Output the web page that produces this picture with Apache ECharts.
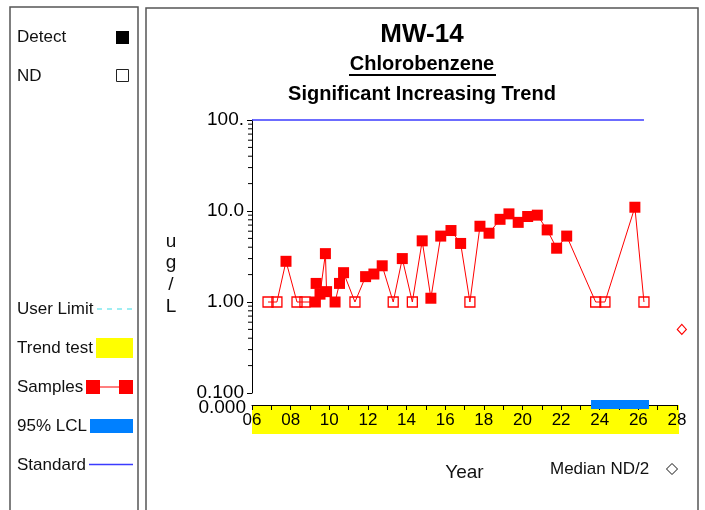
<!DOCTYPE html>
<html>
<head>
<meta charset="utf-8">
<script src="https://cdn.jsdelivr.net/npm/echarts@6/dist/echarts.min.js"></script>
<style>
html, body { margin: 0; padding: 0; background: #fff; }
#chart { width: 705px; height: 510px; }
</style>
</head>
<body>
<div id="chart"></div>
<script>
var FONT = '"Liberation Sans", Arial, sans-serif';

// detected samples (year, ug/L)
var detectDates = [2007.76, 2009.28, 2009.32, 2009.52, 2009.80, 2009.86, 2010.30, 2010.53, 2010.74,
    2011.88, 2012.31, 2012.74, 2013.78, 2014.81, 2015.26, 2015.77, 2016.30, 2016.80, 2017.80,
    2018.27, 2018.84, 2019.30, 2019.78, 2020.27, 2020.77, 2021.28, 2021.77, 2022.29, 2025.82];
var detectValues = [2.8, 1.0, 1.6, 1.22, 3.4, 1.3, 1.0, 1.6, 2.1,
    1.9, 2.03, 2.5, 3.0, 4.7, 1.1, 5.3, 6.1, 4.4, 6.8,
    5.7, 8.1, 9.3, 7.5, 8.7, 9.0, 6.2, 3.9, 5.3, 11.0];

// non-detects, plotted at reporting limit
var ndDates = [2006.83, 2007.29, 2008.33, 2008.74, 2011.33, 2013.31, 2014.30, 2017.28, 2023.79, 2024.27, 2026.29];
var ndValues = [1, 1, 1, 1, 1, 1, 1, 1, 1, 1, 1];

var standardValue = 100;
var standardRange = [2006, 2026.29];
var lclRange = [2023.55, 2026.55];
var trendRange = [2006, 2028];
var medianNdHalf = [2028.25, 0.5];

var yTickLabels = ['0.100', '1.00', '10.0', '100.'];
var yMinorMults = [2, 3, 4, 5, 6, 7, 8, 9];
var yDecades = [0.1, 1, 10];

var detectData = detectDates.map(function (d, i) { return [d, detectValues[i]]; });
var ndData = ndDates.map(function (d, i) { return [d, ndValues[i]]; });
var allData = detectData.concat(ndData).sort(function (a, b) { return a[0] - b[0]; });

var minorTickData = [];
yDecades.forEach(function (dec) {
    yMinorMults.forEach(function (m) { minorTickData.push([trendRange[0], +(dec * m).toPrecision(3)]); });
});

var myChart = echarts.init(document.getElementById('chart'));

var option = {
    animation: false,
    backgroundColor: '#fff',
    textStyle: { fontFamily: FONT },
    title: [
        { text: 'MW-14', left: 422, top: 22, textAlign: 'center', padding: 0,
          textStyle: { fontSize: 26, fontWeight: 'bold', color: '#000', lineHeight: 26, fontFamily: FONT } },
        { text: 'Chlorobenzene', left: 422, top: 54, textAlign: 'center', padding: 0,
          textStyle: { fontSize: 20, fontWeight: 'bold', color: '#000', lineHeight: 20, fontFamily: FONT } },
        { text: 'Significant Increasing Trend', left: 422, top: 84, textAlign: 'center', padding: 0,
          textStyle: { fontSize: 20, fontWeight: 'bold', color: '#000', lineHeight: 20, fontFamily: FONT } }
    ],
    grid: { left: 252, right: 28, top: 120, bottom: 117 },
    xAxis: {
        type: 'value',
        min: trendRange[0],
        max: trendRange[1],
        interval: 2,
        offset: 12,
        z: 10,
        axisLine: { lineStyle: { color: '#000', width: 1 } },
        axisTick: { length: 5, lineStyle: { color: '#000' } },
        minorTick: { show: true, splitNumber: 2, length: 5, lineStyle: { color: '#000' } },
        axisLabel: {
            fontSize: 17, color: '#000', margin: 7, fontFamily: FONT,
            formatter: function (v) { return ('0' + (v % 100)).slice(-2); }
        },
        splitLine: { show: false },
        name: 'Year',
        nameLocation: 'middle',
        nameGap: 58,
        nameTextStyle: { fontSize: 19, color: '#111', fontFamily: FONT }
    },
    yAxis: {
        type: 'log',
        logBase: 10,
        min: 0.1,
        max: 100,
        axisLine: { show: true, lineStyle: { color: '#000', width: 1 } },
        axisTick: { show: true, length: 5, lineStyle: { color: '#000' } },
        axisLabel: {
            fontSize: 19, color: '#000', margin: 8, fontFamily: FONT,
            formatter: function (v) { return yTickLabels[Math.round(Math.log10(v)) + 1]; }
        },
        splitLine: { show: false }
    },
    series: [
        {
            name: 'Trend test',
            type: 'custom',
            clip: false,
            silent: true,
            z: -1,
            data: [[trendRange[0], trendRange[1]]],
            renderItem: function (params, api) {
                var p0 = api.coord([api.value(0), 0.1]);
                var p1 = api.coord([api.value(1), 0.1]);
                return { type: 'rect', shape: { x: p0[0], y: p0[1] + 12, width: p1[0] - p0[0] + 2, height: 29 },
                         style: { fill: '#ffff00' } };
            }
        },
        {
            name: '95% LCL',
            type: 'custom',
            clip: false,
            silent: true,
            z: 12,
            data: [[lclRange[0], lclRange[1]]],
            renderItem: function (params, api) {
                var p0 = api.coord([api.value(0), 0.1]);
                var p1 = api.coord([api.value(1), 0.1]);
                return { type: 'rect', shape: { x: p0[0], y: p0[1] + 7, width: p1[0] - p0[0], height: 9 },
                         style: { fill: '#0080ff' } };
            }
        },
        {
            name: 'minor ticks',
            type: 'custom',
            clip: false,
            silent: true,
            data: minorTickData,
            renderItem: function (params, api) {
                var p = api.coord([api.value(0), api.value(1)]);
                return { type: 'line', shape: { x1: p[0] - 4, y1: p[1], x2: p[0], y2: p[1] },
                         style: { stroke: '#000', lineWidth: 1 } };
            }
        },
        {
            name: 'Standard',
            type: 'line',
            clip: false,
            symbol: 'none',
            data: [[standardRange[0], standardValue], [standardRange[1], standardValue]],
            lineStyle: { color: '#3b3bff', width: 1.5 },
            z: 3
        },
        {
            name: 'Samples',
            type: 'line',
            symbol: 'none',
            data: allData,
            lineStyle: { color: '#ff0000', width: 1 },
            z: 3
        },
        {
            name: 'ND',
            type: 'scatter',
            symbol: 'rect',
            symbolSize: 10,
            data: ndData,
            itemStyle: { color: 'rgba(0,0,0,0)', borderColor: '#ff0000', borderWidth: 1.3, opacity: 1 },
            z: 4
        },
        {
            name: 'Detect',
            type: 'scatter',
            symbol: 'rect',
            symbolSize: 11,
            data: detectData,
            itemStyle: { color: '#ff0000', opacity: 1 },
            z: 4
        },
        {
            name: 'Median ND/2',
            type: 'scatter',
            clip: false,
            symbol: 'diamond',
            symbolSize: [9, 10],
            data: [medianNdHalf],
            itemStyle: { color: 'rgba(0,0,0,0)', borderColor: '#ff0000', borderWidth: 1.2, opacity: 1 },
            z: 4
        }
    ],
    graphic: [
        { type: 'rect', shape: { x: 10, y: 7, width: 128, height: 530 }, style: { fill: 'none', stroke: '#555', lineWidth: 1.5 } },
        { type: 'rect', shape: { x: 146, y: 8, width: 552, height: 530 }, style: { fill: 'none', stroke: '#555', lineWidth: 1.5 } },
        { type: 'line', shape: { x1: 349, y1: 75, x2: 496, y2: 75 }, style: { stroke: '#000', lineWidth: 2 } },

        { type: 'text', x: 17, y: 37, style: { text: 'Detect', font: '17px ' + FONT, fill: '#111', verticalAlign: 'middle' } },
        { type: 'rect', shape: { x: 116, y: 31, width: 13, height: 13 }, style: { fill: '#000' } },
        { type: 'text', x: 17, y: 76, style: { text: 'ND', font: '17px ' + FONT, fill: '#111', verticalAlign: 'middle' } },
        { type: 'rect', shape: { x: 116.5, y: 69.5, width: 12, height: 12 }, style: { fill: 'none', stroke: '#222', lineWidth: 1 } },

        { type: 'text', x: 17, y: 309, style: { text: 'User Limit', font: '17px ' + FONT, fill: '#111', verticalAlign: 'middle' } },
        { type: 'line', shape: { x1: 97, y1: 309, x2: 133, y2: 309 }, style: { stroke: '#40dde8', lineWidth: 1.2, lineDash: [5, 5] } },
        { type: 'text', x: 17, y: 348, style: { text: 'Trend test', font: '17px ' + FONT, fill: '#111', verticalAlign: 'middle' } },
        { type: 'rect', shape: { x: 96, y: 338, width: 37, height: 20 }, style: { fill: '#ffff00' } },
        { type: 'text', x: 17, y: 387, style: { text: 'Samples', font: '17px ' + FONT, fill: '#111', verticalAlign: 'middle' } },
        { type: 'line', shape: { x1: 100, y1: 387, x2: 119, y2: 387 }, style: { stroke: '#ff5555', lineWidth: 1.5 } },
        { type: 'rect', shape: { x: 86, y: 380, width: 14, height: 14 }, style: { fill: '#ff0000' } },
        { type: 'rect', shape: { x: 119, y: 380, width: 14, height: 14 }, style: { fill: '#ff0000' } },
        { type: 'text', x: 17, y: 426, style: { text: '95% LCL', font: '17px ' + FONT, fill: '#111', verticalAlign: 'middle' } },
        { type: 'rect', shape: { x: 90, y: 419, width: 43, height: 14 }, style: { fill: '#0080ff' } },
        { type: 'text', x: 17, y: 465, style: { text: 'Standard', font: '17px ' + FONT, fill: '#111', verticalAlign: 'middle' } },
        { type: 'line', shape: { x1: 89, y1: 464.5, x2: 133, y2: 464.5 }, style: { stroke: '#3b3bff', lineWidth: 1.5 } },

        { type: 'text', x: 246, y: 408, style: { text: '0.000', font: '19px ' + FONT, fill: '#000', align: 'right', verticalAlign: 'middle' } },
        { type: 'text', x: 171, y: 274, style: { text: 'u\ng\n/\nL', font: '19px ' + FONT, fill: '#111', align: 'center', verticalAlign: 'middle', lineHeight: 21.7 } },
        { type: 'text', x: 550, y: 469, style: { text: 'Median ND/2', font: '17px ' + FONT, fill: '#111', verticalAlign: 'middle' } },
        { type: 'polygon', shape: { points: [[672, 463.5], [677.5, 469], [672, 474.5], [666.5, 469]] }, style: { fill: 'none', stroke: '#111', lineWidth: 1 } }
    ]
};

myChart.setOption(option);
</script>
</body>
</html>
